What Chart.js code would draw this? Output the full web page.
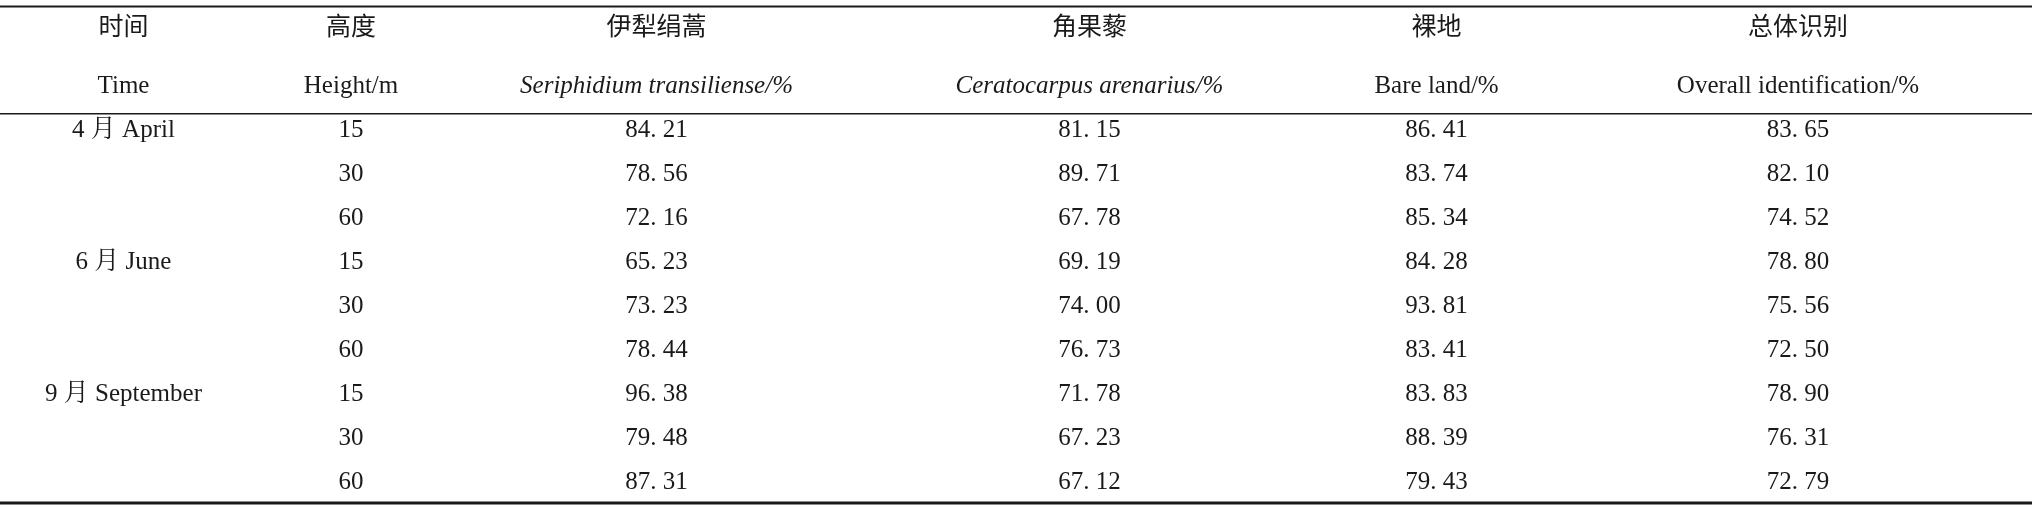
<!DOCTYPE html>
<html>
<head>
<meta charset="utf-8">
<script src="https://cdn.jsdelivr.net/npm/chart.js@4/dist/chart.umd.min.js"></script>
<style>
  html, body { margin: 0; padding: 0; background: #fff; }
  #wrap { width: 2032px; height: 512px; }
</style>
</head>
<body>
<div id="wrap"><canvas id="tbl"></canvas></div>
<script>
// table content
const headersZh = ['时间', '高度', '伊犁绢蒿', '角果藜', '裸地', '总体识别'];
const headersEn = ['Time', 'Height/m', 'Seriphidium transiliense/%', 'Ceratocarpus arenarius/%', 'Bare land/%', 'Overall identification/%'];
const italicEn = [false, false, true, true, false, false];
const months = ['4 月 April', '', '', '6 月 June', '', '', '9 月 September', '', ''];
const heights = [15, 30, 60, 15, 30, 60, 15, 30, 60];
const seriphidium = [84.21, 78.56, 72.16, 65.23, 73.23, 78.44, 96.38, 79.48, 87.31];
const ceratocarpus = [81.15, 89.71, 67.78, 69.19, 74.00, 76.73, 71.78, 67.23, 67.12];
const bareLand = [86.41, 83.74, 85.34, 84.28, 93.81, 83.41, 83.83, 88.39, 79.43];
const overall = [83.65, 82.10, 74.52, 78.80, 75.56, 72.50, 78.90, 76.31, 72.79];

// layout (reference units, 1563 x 396)
const colX = [95, 270, 505, 838, 1105, 1383];
const headY = [20, 67];
const rowY0 = 101, rowStep = 34;
const rules = [{ y: 5, w: 1.6 }, { y: 88, w: 1.3 }, { y: 389, w: 2.4 }];

const fmt = v => v.toFixed(2).replace('.', '. ');

const tablePlugin = {
    id: 'tableText',
    afterDraw(chart) {
        const ctx = chart.ctx;
        const x = chart.scales.x, y = chart.scales.y;
        const sx = v => x.getPixelForValue(v);
        const sy = v => y.getPixelForValue(v);
        ctx.save();
        ctx.fillStyle = '#1a1a1a';
        ctx.strokeStyle = '#1a1a1a';
        rules.forEach(r => {
            ctx.lineWidth = r.w * 1.3;
            ctx.beginPath();
            ctx.moveTo(sx(0), sy(r.y));
            ctx.lineTo(sx(1563), sy(r.y));
            ctx.stroke();
        });
        ctx.textAlign = 'center';
        ctx.textBaseline = 'middle';
        const base = '25px "Liberation Serif", "Noto Serif CJK SC", "Noto Sans CJK SC", serif';
        ctx.font = '25px "Noto Sans CJK SC", sans-serif';
        headersZh.forEach((t, i) => ctx.fillText(t, sx(colX[i]), sy(headY[0])));
        headersEn.forEach((t, i) => {
            ctx.font = (italicEn[i] ? 'italic ' : '') + base;
            ctx.fillText(t, sx(colX[i]), sy(headY[1]));
        });
        ctx.font = base;
        const cols = [months, heights, seriphidium, ceratocarpus, bareLand, overall];
        for (let r = 0; r < heights.length; r++) {
            const yy = sy(rowY0 + r * rowStep);
            cols.forEach((c, i) => {
                let v = c[r];
                if (i >= 2) v = fmt(v);
                ctx.fillText(String(v), sx(colX[i]), yy);
            });
        }
        ctx.restore();
    }
};

new Chart(document.getElementById('tbl'), {
    type: 'scatter',
    data: { datasets: [{ data: [], showLine: false }] },
    options: {
        responsive: true,
        maintainAspectRatio: false,
        animation: false,
        layout: { padding: 0 },
        plugins: { legend: { display: false }, tooltip: { enabled: false } },
        scales: {
            x: { type: 'linear', min: 0, max: 1563, display: false },
            y: { type: 'linear', min: 0, max: 396, reverse: true, display: false }
        }
    },
    plugins: [tablePlugin]
});
</script>
</body>
</html>
